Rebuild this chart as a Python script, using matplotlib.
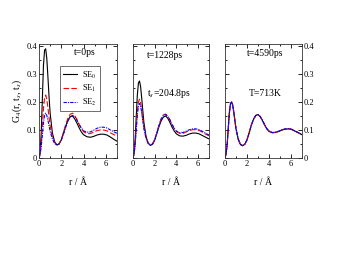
import matplotlib
matplotlib.use("Agg")
import matplotlib.pyplot as plt
from matplotlib.ticker import MultipleLocator

plt.rcParams['font.family'] = ['Liberation Serif', 'DejaVu Serif']
plt.rcParams['mathtext.fontset'] = 'stix'

r = [0, 0.1, 0.2, 0.3, 0.4, 0.5, 0.6, 0.7, 0.8, 0.9, 1.0, 1.2, 1.4, 1.6, 1.8,
     2.0, 2.2, 2.4, 2.6, 2.8, 3.0, 3.2, 3.4, 3.6, 3.8, 4.0, 4.3, 4.6, 4.9,
     5.2, 5.5, 5.8, 6.1, 6.4, 6.7, 7.0]

# panel 1: t=0ps
p1_se0 = [0, 0.02, 0.09, 0.21, 0.33, 0.385, 0.39, 0.355, 0.29, 0.22, 0.16, 0.09, 0.058, 0.047, 0.05,
          0.065, 0.09, 0.115, 0.135, 0.148, 0.15, 0.14, 0.125, 0.108, 0.093, 0.083, 0.076, 0.074, 0.077,
          0.082, 0.085, 0.085, 0.082, 0.075, 0.067, 0.06]
p1_se1 = [0, 0.015, 0.055, 0.115, 0.175, 0.215, 0.225, 0.21, 0.18, 0.145, 0.115, 0.075, 0.055, 0.047, 0.05,
          0.066, 0.092, 0.12, 0.142, 0.156, 0.16, 0.152, 0.138, 0.12, 0.105, 0.094, 0.087, 0.087, 0.092,
          0.098, 0.1, 0.1, 0.097, 0.09, 0.084, 0.078]
p1_se2 = [0, 0.012, 0.04, 0.08, 0.125, 0.152, 0.16, 0.152, 0.135, 0.115, 0.095, 0.068, 0.052, 0.046, 0.05,
          0.063, 0.085, 0.11, 0.132, 0.147, 0.152, 0.147, 0.135, 0.12, 0.107, 0.097, 0.092, 0.093, 0.099,
          0.106, 0.11, 0.11, 0.107, 0.1, 0.094, 0.088]

# panel 2: t=1228ps
p2_se0 = [0, 0.018, 0.07, 0.15, 0.225, 0.268, 0.275, 0.255, 0.215, 0.17, 0.128, 0.077, 0.053, 0.045, 0.049,
          0.064, 0.088, 0.113, 0.133, 0.146, 0.15, 0.142, 0.127, 0.11, 0.096, 0.086, 0.079, 0.078, 0.081,
          0.086, 0.089, 0.089, 0.086, 0.08, 0.074, 0.068]
p2_se1 = [0, 0.015, 0.052, 0.11, 0.165, 0.2, 0.21, 0.198, 0.17, 0.14, 0.11, 0.072, 0.053, 0.046, 0.05,
          0.066, 0.092, 0.119, 0.141, 0.154, 0.157, 0.15, 0.136, 0.119, 0.104, 0.094, 0.088, 0.088, 0.093,
          0.098, 0.101, 0.101, 0.098, 0.092, 0.085, 0.079]
p2_se2 = [0, 0.014, 0.048, 0.1, 0.152, 0.186, 0.195, 0.186, 0.162, 0.134, 0.106, 0.07, 0.052, 0.046, 0.05,
          0.065, 0.09, 0.117, 0.139, 0.152, 0.155, 0.149, 0.136, 0.12, 0.106, 0.096, 0.09, 0.091, 0.096,
          0.101, 0.104, 0.104, 0.101, 0.095, 0.088, 0.082]

# panel 3: t=4590ps
p3_se0 = [0, 0.015, 0.05, 0.11, 0.165, 0.195, 0.2, 0.19, 0.163, 0.133, 0.104, 0.067, 0.048, 0.044, 0.049,
          0.065, 0.09, 0.118, 0.139, 0.152, 0.155, 0.148, 0.134, 0.118, 0.104, 0.095, 0.09, 0.091, 0.095,
          0.1, 0.103, 0.104, 0.101, 0.095, 0.089, 0.083]
p3_se1 = [0, 0.015, 0.05, 0.108, 0.163, 0.194, 0.2, 0.19, 0.164, 0.134, 0.105, 0.068, 0.049, 0.044, 0.049,
          0.065, 0.091, 0.118, 0.139, 0.152, 0.155, 0.148, 0.135, 0.119, 0.105, 0.096, 0.091, 0.092, 0.096,
          0.101, 0.104, 0.105, 0.102, 0.096, 0.09, 0.084]
p3_se2 = [0, 0.015, 0.05, 0.107, 0.162, 0.193, 0.199, 0.189, 0.163, 0.134, 0.105, 0.068, 0.049, 0.044, 0.049,
          0.065, 0.091, 0.118, 0.139, 0.152, 0.155, 0.148, 0.135, 0.119, 0.105, 0.096, 0.091, 0.092, 0.096,
          0.101, 0.104, 0.105, 0.102, 0.096, 0.09, 0.084]

labels = ['SE$_0$', 'SE$_1$', 'SE$_2$']
panel_texts = [['t=0ps'], ['t=1228ps', 't$_s$=204.8ps'], ['t=4590ps', 'T=713K']]
panels = [(p1_se0, p1_se1, p1_se2), (p2_se0, p2_se1, p2_se2), (p3_se0, p3_se1, p3_se2)]

W, H = 342, 264
fig = plt.figure(figsize=(W / 100, H / 100), dpi=100)
lefts = [39, 133, 225]
widths = [78, 76, 77]
top, bottom = 44, 158

styles = [dict(color='black', ls='-', lw=0.8),
          dict(color='red', ls=(0, (5, 2)), lw=0.8),
          dict(color='blue', ls=(0, (3, 1, 1, 1)), lw=0.8)]

text_pos = [[(85, 53)], [(165, 55), (169, 93)], [(265, 54), (265, 93)]]

axes = []
for i in range(3):
    ax = fig.add_axes([lefts[i] / W, (H - bottom) / H, widths[i] / W, (bottom - top) / H])
    axes.append(ax)
    for s, y, lab in zip(styles, panels[i], labels):
        ax.plot(r, y, label=lab, **s)
    ax.set_xlim(0, 7)
    ax.set_ylim(0, 0.407)
    ax.xaxis.set_major_locator(MultipleLocator(2))
    ax.xaxis.set_minor_locator(MultipleLocator(1))
    ax.yaxis.set_major_locator(MultipleLocator(0.1))
    ax.yaxis.set_minor_locator(MultipleLocator(0.05))
    ax.tick_params(which='both', direction='in', top=True, right=True, labelsize=6,
                   width=0.6, pad=1.5)
    ax.tick_params(which='major', length=3)
    ax.tick_params(which='minor', length=1.5)
    ax.set_xticks([0, 2, 4, 6])
    ax.set_xticklabels(['0', '2', '4', '6'])
    for sp in ax.spines.values():
        sp.set_linewidth(0.6)
        sp.set_color('#333333')
    ax.set_xlabel('r / Å', fontsize=7, labelpad=7)
    if i == 0:
        ax.set_yticks([0, 0.1, 0.2, 0.3, 0.4])
        ax.set_yticklabels(['0', '0.1', '0.2', '0.3', '0.4'])
        ax.set_ylabel('G$_4$(r, t$_s$, t$_s$)', fontsize=7, labelpad=2)
    elif i == 1:
        ax.set_yticklabels([])
    else:
        ax.tick_params(axis='y', labelleft=False, labelright=True)
        ax.set_yticks([0, 0.1, 0.2, 0.3, 0.4])
        ax.set_yticklabels(['0', '0.1', '0.2', '0.3', '0.4'])
    for txt, (px, py) in zip(panel_texts[i], text_pos[i]):
        fig.text(px / W, 1 - py / H, txt, fontsize=7, ha='center', va='center')

leg = axes[0].legend(loc='upper left', bbox_to_anchor=((60 - 39) / 78, (158 - 66) / 114),
                     fontsize=6, frameon=True, fancybox=False, handlelength=1.6,
                     handletextpad=0.6, borderpad=0.4, labelspacing=0.3, borderaxespad=0)
leg.get_frame().set_edgecolor('black')
leg.get_frame().set_linewidth(0.5)

fig.savefig('out.png', dpi=100)
